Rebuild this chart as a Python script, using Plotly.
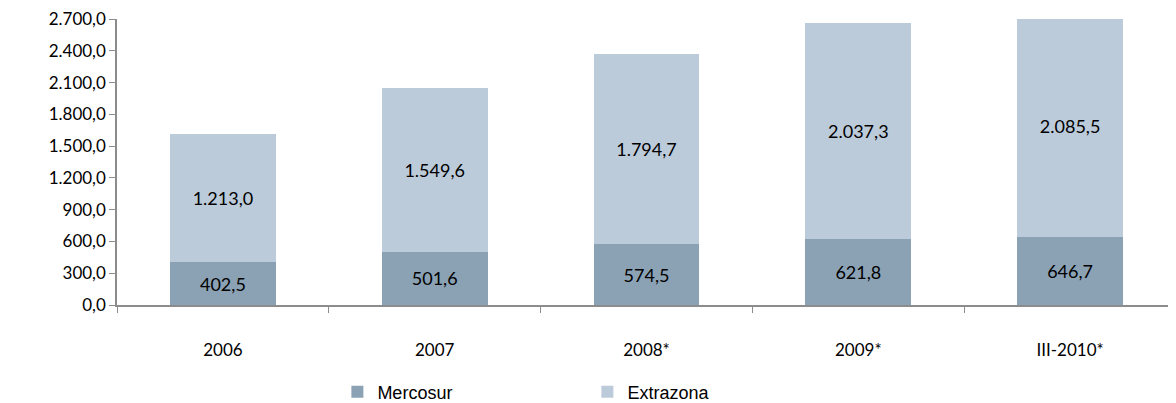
"""Stacked bar chart: Mercosur vs Extrazona."""

import plotly.graph_objects as go

MERCOSUR_COLOR = '#8ba2b5'
EXTRAZONA_COLOR = '#bccbda'
AXIS_COLOR = '#8c8c8c'

categories = ['2006', '2007', '2008*', '2009*', 'III-2010*']
mercosur = [402.5, 501.6, 574.5, 621.8, 646.7]
extrazona = [1213.0, 1549.6, 1794.7, 2037.3, 2085.5]
y_ticks = [0, 300, 600, 900, 1200, 1500, 1800, 2100, 2400, 2700]

fig = go.Figure(data=[
    go.Bar(
        name='Mercosur',
        x=categories,
        y=mercosur,
        marker_color=MERCOSUR_COLOR,
        marker_line_width=0,
        texttemplate='%{y:,.1f}',
        textposition='inside',
        textangle=0,
        insidetextanchor='middle',
        textfont=dict(color='black', size=18),
    ),
    go.Bar(
        name='Extrazona',
        x=categories,
        y=extrazona,
        marker_color=EXTRAZONA_COLOR,
        marker_line_width=0,
        texttemplate='%{y:,.1f}',
        textposition='inside',
        textangle=0,
        insidetextanchor='middle',
        textfont=dict(color='black', size=18),
    ),
])

# page has an 8px body margin, so the figure is sized to fit inside it
fig.update_layout(
    width=1168,
    height=395,
    barmode='stack',
    bargap=0.5,
    separators=',.',
    font=dict(family='Lato', size=17, color='black'),
    plot_bgcolor='white',
    paper_bgcolor='white',
    margin=dict(t=9, b=98, l=109, r=0),
    uniformtext=dict(minsize=10, mode='show'),
    showlegend=True,
    legend=dict(
        orientation='h',
        traceorder='normal',
        xref='container',
        x=0.282,
        xanchor='left',
        yref='container',
        y=0.028,
        yanchor='middle',
        entrywidth=205,
        entrywidthmode='pixels',
        font=dict(family='Liberation Sans', size=18),
    ),
    xaxis=dict(
        showline=True,
        linecolor=AXIS_COLOR,
        linewidth=1.5,
        ticks='outside',
        tickson='boundaries',
        tickcolor=AXIS_COLOR,
        ticklen=6,
        ticklabelstandoff=29,
        tickfont=dict(size=17),
    ),
    yaxis=dict(
        range=[0, 2700],
        tickvals=y_ticks,
        tickformat=',.1f',
        ticklabeloverflow='allow',
        showgrid=False,
        zeroline=False,
        showline=True,
        linecolor=AXIS_COLOR,
        linewidth=1.5,
        ticks='outside',
        tickcolor=AXIS_COLOR,
        ticklen=6,
        tickfont=dict(size=17),
    ),
)

fig.write_html("out.html")
